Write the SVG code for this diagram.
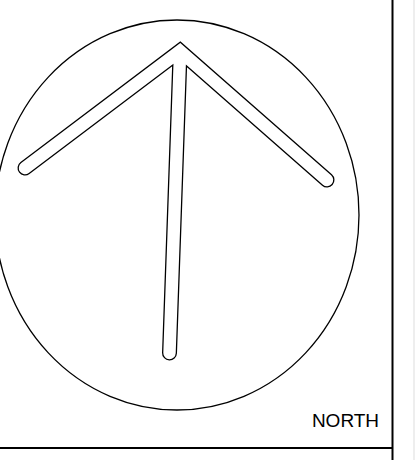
<svg xmlns="http://www.w3.org/2000/svg" width="415" height="460" viewBox="0 0 415 460">
<style>
.frame{stroke:#000;stroke-width:2;fill:none}
.outer{fill:none;stroke:#000;stroke-width:15;stroke-linecap:round;stroke-linejoin:miter;stroke-miterlimit:10}
.inner{fill:none;stroke:#fff;stroke-width:12.4;stroke-linecap:round;stroke-linejoin:miter;stroke-miterlimit:10}
.label{font-family:"Liberation Sans",Arial,sans-serif;font-size:19px;fill:#000}
</style>
<rect width="415" height="460" fill="#fff"/>
<g id="frame">
<line class="frame" x1="392.5" y1="0" x2="392.5" y2="460"/>
<line class="frame" x1="0" y1="448" x2="393" y2="448"/>
<line x1="414" y1="0" x2="414" y2="460" stroke="#ddd" stroke-width="1"/>
</g>
<g id="compass">
<ellipse cx="177" cy="215" rx="182" ry="195" fill="none" stroke="#000" stroke-width="1.3"/>
</g>
<g id="arrow">
<path class="outer" d="M25,168 L180,51 L327,180 M180,55 L169.5,353"/>
<path class="inner" d="M25,168 L180,51 L327,180 M180,55 L169.5,353"/>
</g>
<g id="label">
<text class="label" x="345.5" y="427" text-anchor="middle">NORTH</text>
</g>
</svg>
